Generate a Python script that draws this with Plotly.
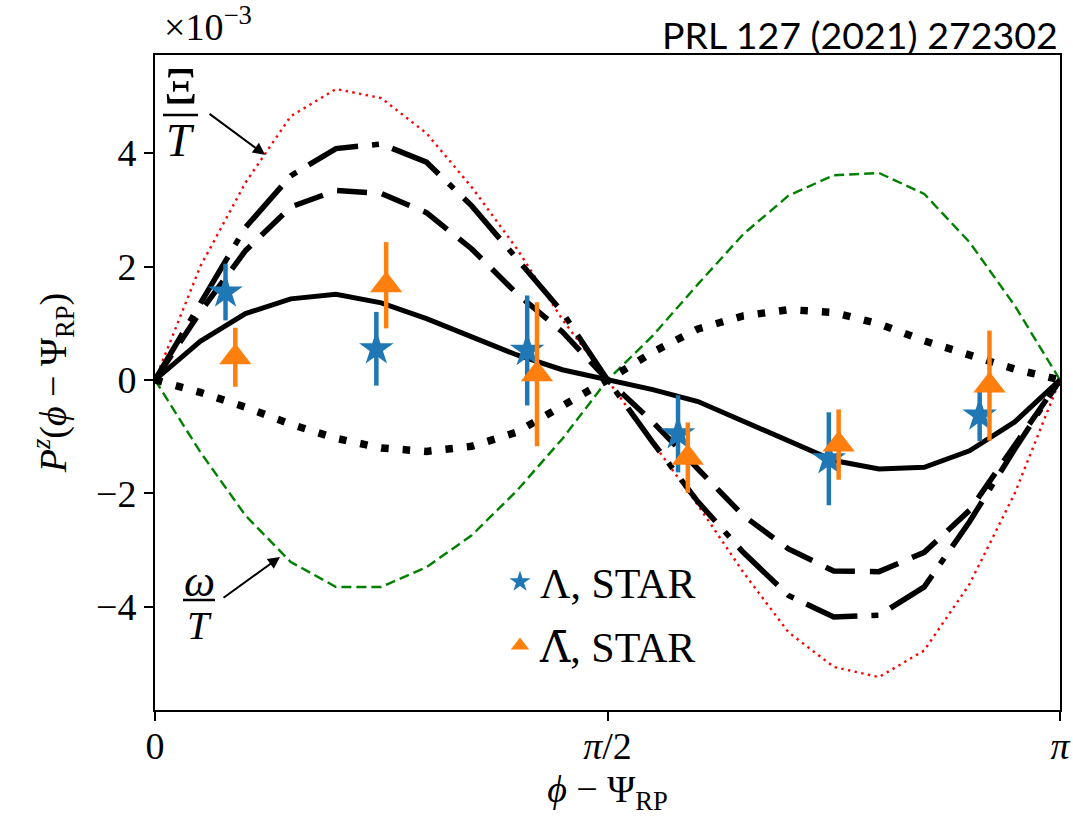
import numpy as np
import plotly.graph_objects as go

# ---------------- data (values in units of 1e-3) ----------------
n_pts = 21
phi_grid = np.linspace(0, np.pi, n_pts)

xi_over_T = [0, 2.0, 3.48, 4.65, 5.13, 4.97, 4.35, 3.4, 2.31, 1.07, 0,
             -1.10, -2.21, -3.39, -4.45, -5.06, -5.24, -4.77, -3.6, -2.0, 0]
total_dashdot = [0, 1.35, 2.69, 3.6, 4.08, 4.16, 3.84, 3.07, 2.13, 1.2, 0,
                 -1.1, -2.15, -3.04, -3.8, -4.18, -4.15, -3.65, -2.5, -1.22, 0]
total_dashed = [0, 1.2, 2.28, 3.05, 3.34, 3.29, 2.95, 2.31, 1.52, 0.85, 0,
                -0.74, -1.57, -2.39, -2.98, -3.37, -3.38, -3.04, -2.3, -1.16, 0]
total_solid = [0, 0.68, 1.17, 1.43, 1.51, 1.36, 1.08, 0.75, 0.44, 0.18, 0,
               -0.17, -0.38, -0.72, -1.07, -1.42, -1.57, -1.54, -1.25, -0.74, 0]
total_dotted = [0, -0.22, -0.48, -0.78, -1.03, -1.2, -1.26, -1.17, -0.92, -0.47, 0,
                0.49, 0.9, 1.13, 1.24, 1.19, 0.99, 0.69, 0.43, 0.19, 0]
omega_over_T = [0, -1.27, -2.39, -3.21, -3.65, -3.65, -3.3, -2.74, -1.95, -1.04, 0,
                0.78, 1.69, 2.57, 3.25, 3.61, 3.65, 3.28, 2.43, 1.31, 0]

star_bins = [np.pi / 12, 3 * np.pi / 12, 5 * np.pi / 12, 7 * np.pi / 12, 9 * np.pi / 12, 11 * np.pi / 12]
bin_shift = 0.017
lam_y = [1.55, 0.55, 0.52, -0.95, -1.39, -0.62]
lam_err = [0.5, 0.65, 0.97, 0.68, 0.82, 0.46]
alam_y = [0.4, 1.67, 0.1, -1.37, -1.14, -0.1]
alam_err = [0.52, 0.76, 1.27, 0.62, 0.62, 0.97]

x_tickvals = [0, np.pi / 2, np.pi]
x_ticktext = ["0", "<i>π</i>/2", "<i>π</i>"]
y_tickvals = [-4, -2, 0, 2, 4]

SERIF = "Liberation Serif"

fig = go.Figure()

def add_line(y, color, width, dash):
    fig.add_trace(go.Scatter(x=phi_grid, y=y, mode="lines", showlegend=False,
                             line=dict(color=color, width=width, dash=dash),
                             hoverinfo="skip"))

add_line(omega_over_T, "#008000", 2.4, "10px,5px")
add_line(xi_over_T, "red", 2.4, "2.4px,4.4px")
add_line(total_dotted, "black", 7.5, "7.5px,14px")
add_line(total_dashed, "black", 5.5, "30px,15px")
add_line(total_dashdot, "black", 5.5, "54px,14px,7px,14px")
add_line(total_solid, "black", 5, "solid")

fig.add_trace(go.Scatter(
    x=[v - bin_shift for v in star_bins], y=lam_y, mode="markers",
    name="Λ, STAR", legendgroup="a",
    marker=dict(symbol="star", size=26, color="#1f77b4"),
    error_y=dict(type="data", array=lam_err, thickness=4.5, width=0, color="#1f77b4")))
fig.add_trace(go.Scatter(
    x=[v + bin_shift for v in star_bins], y=alam_y, mode="markers",
    name="<span style='font-family:DejaVu Serif'>Λ̄</span>, STAR", legendgroup="b",
    marker=dict(symbol="triangle-up", size=28, color="#ff7f0e"),
    error_y=dict(type="data", array=alam_err, thickness=4.5, width=0, color="#ff7f0e")))

W, H = 1073, 822
L, R, T, B = 155, 13, 55, 112
pw, ph = W - L - R, H - T - B

def px2paper(px, py):
    return (px - L) / pw, (H - B - py) / ph

annotations = []
# x10^-3
annotations.append(dict(xref="paper", yref="paper", x=px2paper(162, 0)[0], y=px2paper(0, 50)[1],
                        xanchor="left", yanchor="bottom", showarrow=False,
                        text="×10<sup>−3</sup>", font=dict(family=SERIF, size=38, color="black")))
# reference tag
annotations.append(dict(xref="paper", yref="paper", x=1.0, y=px2paper(0, 34)[1],
                        xanchor="right", yanchor="middle", showarrow=False,
                        text="PRL 127 (2021) 272302", font=dict(family="Lato", size=37.5, color="black")))
# Xi/T and omega/T labels
for txt, cx, cy, sz in [("Ξ", 180, 86, 52), ("<i>T</i>", 180, 140, 46),
                        ("<i>ω</i>", 199, 581, 44), ("<i>T</i>", 199, 625, 40)]:
    px_, py_ = px2paper(cx, cy)
    annotations.append(dict(xref="paper", yref="paper", x=px_, y=py_, xanchor="center", yanchor="middle",
                            showarrow=False, text=txt, font=dict(family=SERIF, size=sz, color="black")))
# arrows
annotations.append(dict(x=0.382, y=3.97, xref="x", yref="y", ax=-57, ay=-42, text="",
                        showarrow=True, arrowhead=2, arrowsize=1.2, arrowwidth=2, arrowcolor="black"))
annotations.append(dict(x=0.434, y=-3.12, xref="x", yref="y", ax=-58, ay=42, text="",
                        showarrow=True, arrowhead=2, arrowsize=1.2, arrowwidth=2, arrowcolor="black"))

shapes = []
for (x0, x1, yy) in [(163, 198, 115), (183, 215, 600)]:
    a0, b0 = px2paper(x0, yy)
    a1, _ = px2paper(x1, yy)
    shapes.append(dict(type="line", xref="paper", yref="paper", x0=a0, x1=a1, y0=b0, y1=b0,
                       line=dict(color="black", width=2.5)))

fig.update_layout(
    width=W, height=H,
    margin=dict(l=L, r=R, t=T, b=B, autoexpand=False),
    paper_bgcolor="white", plot_bgcolor="white",
    annotations=annotations, shapes=shapes,
    legend=dict(x=px2paper(500, 0)[0], y=px2paper(0, 548)[1], xanchor="left", yanchor="top",
                bgcolor="rgba(0,0,0,0)", font=dict(family=SERIF, size=42, color="black"),
                traceorder="grouped", tracegroupgap=6, itemsizing="trace"),
    xaxis=dict(range=[0, np.pi], tickvals=x_tickvals, ticktext=x_ticktext,
               showgrid=False, zeroline=False, showline=True, linecolor="black", linewidth=2,
               mirror=True, ticks="outside", ticklen=9, tickwidth=1.6, tickcolor="black",
               ticklabelstandoff=-8,
               tickfont=dict(family=SERIF, size=38, color="black"),
               title=dict(text="<i>ϕ</i> − Ψ<sub>RP</sub>", font=dict(family=SERIF, size=38, color="black"),
                          standoff=10)),
    yaxis=dict(range=[-5.82, 5.73], tickvals=y_tickvals,
               showgrid=False, zeroline=False, showline=True, linecolor="black", linewidth=2,
               mirror=True, ticks="outside", ticklen=9, tickwidth=1.6, tickcolor="black",
               tickfont=dict(family=SERIF, size=38, color="black"),
               title=dict(text="<i>P</i><sup><i>z</i></sup>(<i>ϕ</i> − Ψ<sub>RP</sub>)",
                          font=dict(family=SERIF, size=38, color="black"), standoff=18)),
)

fig.write_html("out.html", config={"displayModeBar": False},
               post_script="document.body.style.margin='0';document.body.style.padding='0';")
